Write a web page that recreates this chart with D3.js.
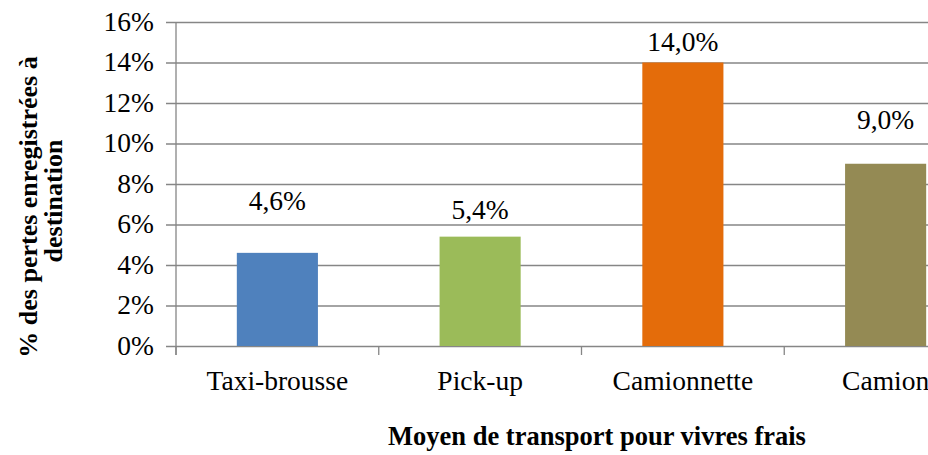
<!DOCTYPE html>
<html>
<head>
<meta charset="utf-8">
<script src="https://cdn.jsdelivr.net/npm/d3@7"></script>
<style>
  body { margin: 0; background: #fff; }
  svg text { font-family: "Liberation Serif", "Times New Roman", Times, serif !important; fill: #000; }
  .axis path { display: none; }
  .axis line { stroke: #868686; stroke-width: 1.3; }
</style>
</head>
<body>
<svg id="chart" width="928" height="455"></svg>
<script>
var categories = ["Taxi-brousse", "Pick-up", "Camionnette", "Camion"];
var losses = [0.046, 0.054, 0.140, 0.090];
var yTicks = [0, 0.02, 0.04, 0.06, 0.08, 0.10, 0.12, 0.14, 0.16];
var barColors = ["#4f81bd", "#9bbb59", "#e46c0a", "#948a54"];

// labels were dragged around in the original, so each sits its own distance above the bar
var labelLift = [43, 18, 12, 35];

var plot = {left: 176, right: 987, top: 22, bottom: 346};
var serif = "'Liberation Serif', 'Times New Roman', serif";
var fs = 27.5;

var fr = d3.formatLocale({decimal: ",", thousands: " ", grouping: [3], currency: ["", "€"]});
var pct1 = fr.format(".1%");

var svg = d3.select("#chart");

var x = d3.scaleBand()
    .domain(categories)
    .range([plot.left, plot.right])
    .paddingInner(0.6)
    .paddingOuter(0.3);

var y = d3.scaleLinear()
    .domain([0, 0.16])
    .range([plot.bottom, plot.top]);

// y axis + gridlines
var yAxis = svg.append("g")
    .attr("class", "axis y")
    .attr("transform", "translate(" + plot.left + ",0)")
    .call(d3.axisLeft(y).tickValues(yTicks).tickFormat(d3.format(".0%")).tickSize(0).tickPadding(22));

yAxis.attr("font-family", serif).attr("font-size", fs);

yAxis.selectAll(".tick line")
    .attr("x1", -10)
    .attr("x2", plot.right - plot.left);

yAxis.selectAll(".tick text").attr("dy", "0.3em");

yAxis.append("line")
    .attr("x1", 0).attr("x2", 0)
    .attr("y1", plot.top).attr("y2", plot.bottom + 9);

// x axis: ticks sit between categories
var xAxis = svg.append("g")
    .attr("class", "axis x")
    .attr("transform", "translate(0," + plot.bottom + ")")
    .call(d3.axisBottom(x).tickSize(0).tickPadding(24));

xAxis.attr("font-family", serif).attr("font-size", fs);
xAxis.selectAll(".tick text").attr("dy", "0.71em");

xAxis.selectAll(".sep")
    .data(categories.concat(["end"]))
  .enter().append("line")
    .attr("class", "sep")
    .attr("x1", function(d, i) { return plot.left + i * x.step(); })
    .attr("x2", function(d, i) { return plot.left + i * x.step(); })
    .attr("y1", 0)
    .attr("y2", 9);

// bars
svg.selectAll(".bar")
    .data(losses)
  .enter().append("rect")
    .attr("class", "bar")
    .attr("x", function(d, i) { return x(categories[i]); })
    .attr("y", function(d) { return y(d); })
    .attr("width", x.bandwidth())
    .attr("height", function(d) { return y(0) - y(d); })
    .attr("fill", function(d, i) { return barColors[i]; });

// value labels
svg.selectAll(".val")
    .data(losses)
  .enter().append("text")
    .attr("class", "val")
    .attr("x", function(d, i) { return x(categories[i]) + x.bandwidth() / 2; })
    .attr("y", function(d, i) { return y(d) - labelLift[i]; })
    .attr("text-anchor", "middle")
    .attr("font-family", serif)
    .attr("font-size", fs)
    .text(function(d) { return pct1(d); });

// axis titles
svg.append("text")
    .attr("x", 597)
    .attr("y", 445)
    .attr("text-anchor", "middle")
    .attr("font-family", serif)
    .attr("font-size", 26.5)
    .attr("font-weight", "bold")
    .text("Moyen de transport pour vivres frais");

var yTitle = svg.append("text")
    .attr("transform", "rotate(-90)")
    .attr("text-anchor", "middle")
    .attr("font-family", serif)
    .attr("font-size", 26)
    .attr("font-weight", "bold");

yTitle.append("tspan")
    .attr("x", -207)
    .attr("y", 37)
    .text("% des pertes enregistrées à");

yTitle.append("tspan")
    .attr("x", -201)
    .attr("y", 62)
    .text("destination");
</script>
</body>
</html>
